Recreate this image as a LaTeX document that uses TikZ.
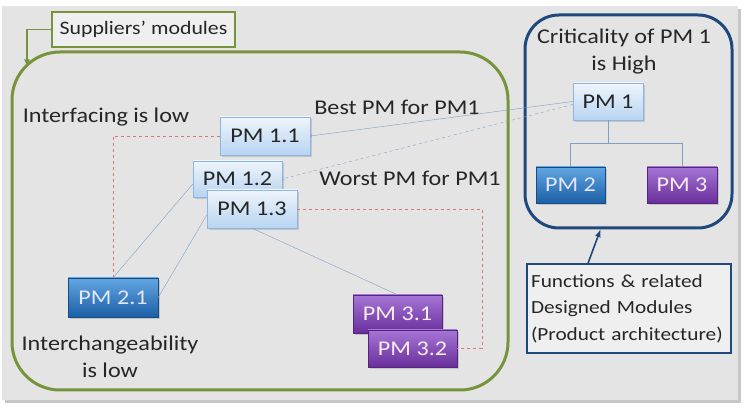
\documentclass[tikz,border=0pt]{standalone}
\usepackage{fontspec}
\setmainfont{Carlito}[FakeStretch=1.15]
\usepackage{tikz}
\usetikzlibrary{positioning,calc,shadows,arrows}

\definecolor{bggray}{HTML}{E4E4E4}
\definecolor{suppgreen}{HTML}{77933C}
\definecolor{archblue}{HTML}{1F497D}
\definecolor{txtgray}{HTML}{262626}
\definecolor{pmedge}{HTML}{8EB4E3}
\definecolor{pmtop}{HTML}{EEF5FC}
\definecolor{pmbot}{HTML}{B8D4F1}
\definecolor{bluetop}{HTML}{62A6E2}
\definecolor{bluebot}{HTML}{1C5FA6}
\definecolor{purptop}{HTML}{A576D6}
\definecolor{purpbot}{HTML}{6A2E9B}
\definecolor{linkblue}{HTML}{7F9FC4}
\definecolor{reddash}{HTML}{E0707A}

\begin{document}
\begin{tikzpicture}[x=1pt,y=-1pt,
  lbl/.style={text=txtgray, font=\fontsize{21}{27}\selectfont, align=center, inner sep=0pt},
  pmbox/.style={minimum width=90pt, minimum height=38pt, inner sep=0pt,
    font=\fontsize{21}{24}\selectfont,
    drop shadow={opacity=0.3,shadow xshift=2pt,shadow yshift=-2pt}},
  pmlight/.style={pmbox, draw=pmedge, top color=pmtop, bottom color=pmbot, text=txtgray},
  pmblue/.style={pmbox, draw=bluebot!80!black, top color=bluetop, bottom color=bluebot, text=white!90!blue},
  pmpurple/.style={pmbox, draw=purpbot!80!black, top color=purptop, bottom color=purpbot, text=white!92!purple},
  link/.style={linkblue, thin},
  redlink/.style={reddash, thin, dashed}]
\useasboundingbox (0,0) rectangle (747,411);

% background
\fill[white] (0,0) rectangle (747,411);
\fill[black!22] (5,9) rectangle (741,403);
\fill[bggray] (2,6) rectangle (738,400);

% suppliers side
\node[draw=suppgreen, line width=3pt, rounded corners=48pt, minimum width=496pt, minimum height=338pt] (supp) at (260,221) {};
\node[draw=suppgreen, line width=1.6pt, fill=bggray!60!white, minimum width=183pt, minimum height=35pt, text=txtgray, font=\fontsize{19}{22}\selectfont, inner sep=0pt] (sm) at (143.5,29.5) {Suppliers’ modules};
\coordinate (smtip) at (27,67);
\draw[suppgreen, line width=1.6pt, -latex] (sm.west) -| (smtip);

% product architecture side
\node[draw=archblue, line width=3pt, rounded corners=34pt, minimum width=207pt, minimum height=213pt] (arch) at (628.5,121.5) {};
\node[lbl] (crit) at (624,52) {Criticality of PM 1\\is High};
\node[pmlight, minimum width=70pt, minimum height=37pt] (pm1) at (608,101.5) {PM 1};
\node[pmblue, minimum width=69pt, minimum height=36pt] (pm2) at (570.5,185) {PM 2};
\node[pmpurple, minimum width=70pt, minimum height=36pt] (pm3) at (682,185) {PM 3};
\draw[link] (pm1.south) -- ++(0,23) coordinate (jn);
\draw[link] (pm2.north) |- (jn) -| (pm3.north);

\node[draw=archblue, line width=1.4pt, fill=bggray!60!white, text width=196pt, minimum height=89pt, inner xsep=4pt, align=left, text=txtgray, font=\fontsize{18.5}{26.5}\selectfont] (func) at (629,308.5) {Functions \& related\\Designed Modules\\(Product~architecture)};
\draw[archblue, line width=1.6pt, -latex] ([xshift=-41pt]func.north) -- ([xshift=-28pt]arch.south);

% supplier modules
\node[lbl] (intf) at (106,117) {Interfacing is low};
\node[lbl] (intch) at (110,357) {Interchangeability\\is low};
\node[lbl] (best) at (397,107) {Best PM for PM1};
\node[lbl] (worst) at (410,178) {Worst PM for PM1};

\node[pmlight] (pm11) at (265,136) {PM 1.1};
\node[pmlight, minimum width=89pt, minimum height=36pt] (pm12) at (237.5,179) {PM 1.2};
\node[pmlight] (pm13) at (252,209) {PM 1.3};
\node[pmblue, minimum height=39pt] (pm21) at (113,297.5) {PM 2.1};
\node[pmpurple, minimum width=89pt] (pm31) at (397.5,314) {PM 3.1};
\node[pmpurple, minimum width=89pt, minimum height=37pt] (pm32) at (412.5,348.5) {PM 3.2};

% links
\draw[link, ->] (pm1.west) -- (pm11.east);
\draw[link, dashed, ->] ([yshift=-3pt]pm1.west) -- (pm12.east);
\draw[link] (pm21.north) -- ([yshift=-5pt]pm12.west);
\draw[link] (pm21.east) -- ([yshift=-6pt]pm13.west);
\draw[link] (pm13.south) -- (pm31.north);

\coordinate (redx) at (482,0);
\draw[redlink] (pm11.west) -| (pm21.north);
\draw[redlink] (pm13.east) -| (redx |- pm32.east) -- (pm32.east);
\end{tikzpicture}
\end{document}
